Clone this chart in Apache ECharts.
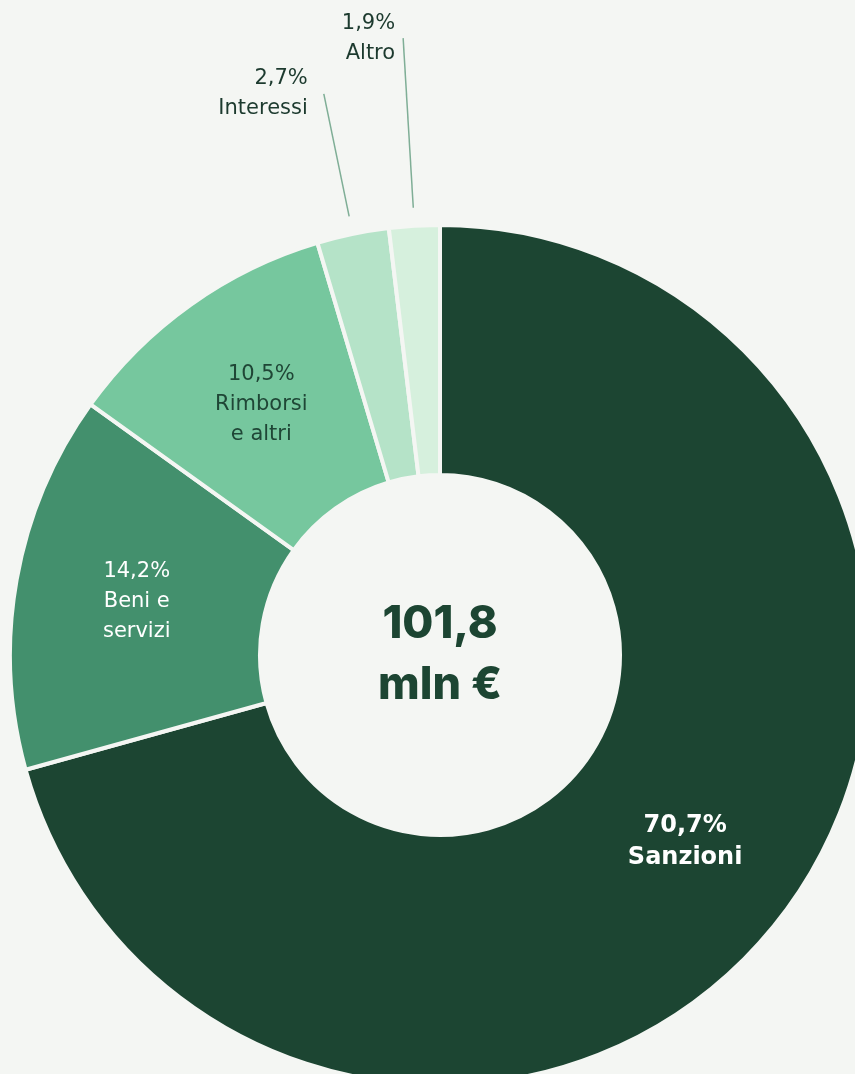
<!DOCTYPE html>
<html>
<head>
<meta charset="utf-8">
<script src="https://cdn.jsdelivr.net/npm/echarts@6/dist/echarts.min.js"></script>
<style>
  html, body { margin: 0; padding: 0; background: #f4f6f3; }
  #chart { width: 855px; height: 1074px; }
</style>
</head>
<body>
<div id="chart"></div>
<script>
  const categories = ['Sanzioni', 'Beni e servizi', 'Rimborsi e altri', 'Interessi', 'Altro'];
  const labelNames = ['Sanzioni', 'Beni e\nservizi', 'Rimborsi\ne altri', 'Interessi', 'Altro'];
  const values = [70.7, 14.2, 10.5, 2.7, 1.9];
  const colors = ['#1c4532', '#43906d', '#76c79e', '#b5e3c8', '#d6f0dd'];
  const totalText = ['101,8', 'mln €'];

  const bg = '#f4f6f3';
  const font = 'DejaVu Sans';
  const cx = 440, cy = 655;

  const fmt = v => v.toFixed(1).replace('.', ',') + '%';

  // inside labels for the big slices
  const insideStyles = [
    { color: '#ffffff', fontSize: 24, fontWeight: 700, lineHeight: 32 },
    { color: '#ffffff', fontSize: 21, fontWeight: 400, lineHeight: 30 },
    { color: '#1f4636', fontSize: 21, fontWeight: 400, lineHeight: 30 },
    null,
    null
  ];
  // outside leader lengths / label gap for the small slices
  const outsideLen = [0, 0, 0, 125, 170];
  const outsideGap = [0, 0, 0, 16, 8];

  const mainData = categories.map((c, i) => ({
    name: c,
    value: values[i],
    itemStyle: { color: colors[i] },
    label: insideStyles[i]
      ? Object.assign({ show: true, position: 'inside', fontFamily: font }, insideStyles[i])
      : { show: false }
  }));

  const outerData = categories.map((c, i) => ({
    name: c,
    value: values[i],
    label: { show: outsideLen[i] > 0, distanceToLabelLine: outsideGap[i] },
    labelLine: { show: outsideLen[i] > 0, length: outsideLen[i], length2: 0 }
  }));

  const chart = echarts.init(document.getElementById('chart'));
  chart.setOption({
    backgroundColor: bg,
    animation: false,
    series: [
      {
        type: 'pie',
        center: [cx, cy],
        radius: [180, 430],
        startAngle: 90,
        silent: true,
        itemStyle: { borderColor: bg, borderWidth: 4 },
        label: {
          formatter: p => fmt(p.value) + '\n' + labelNames[p.dataIndex]
        },
        labelLine: { show: false },
        data: mainData
      },
      {
        type: 'pie',
        center: [cx, cy],
        radius: [0, 448],
        startAngle: 90,
        silent: true,
        avoidLabelOverlap: false,
        z: 1,
        itemStyle: { color: 'rgba(0,0,0,0)' },
        label: {
          position: 'outside',
          fontFamily: font,
          fontSize: 21,
          lineHeight: 30,
          color: '#1c3a2e',
          formatter: p => fmt(p.value) + '\n' + labelNames[p.dataIndex]
        },
        labelLine: {
          lineStyle: { color: '#7fae96', width: 1.5 }
        },
        data: outerData
      }
    ],
    graphic: [
      {
        type: 'text',
        x: cx,
        y: cy,
        style: {
          text: totalText.join('\n'),
          align: 'center',
          verticalAlign: 'middle',
          font: '800 45px Inter',
          lineHeight: 61,
          fill: '#1c4532'
        }
      }
    ]
  });
</script>
</body>
</html>
